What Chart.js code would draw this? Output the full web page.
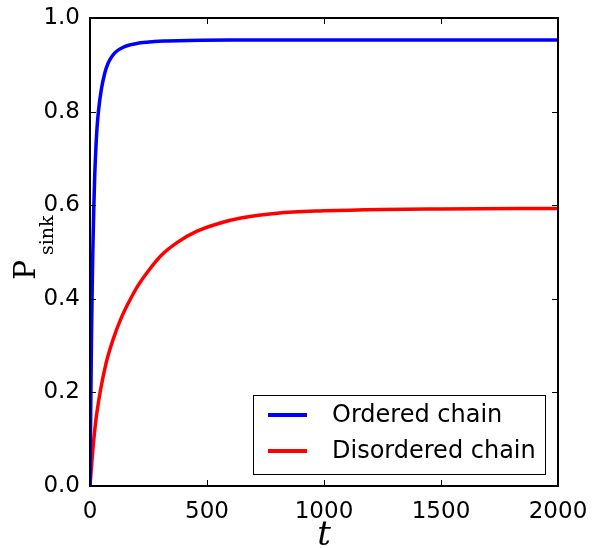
<!DOCTYPE html>
<html>
<head>
<meta charset="utf-8">
<script src="https://cdn.jsdelivr.net/npm/chart.js@4"></script>
<style>
  html, body { margin: 0; padding: 0; background: #fff; }
  #wrap { width: 600px; height: 548px; }
</style>
</head>
<body>
<div id="wrap"><canvas id="sinkChart" width="600" height="548"></canvas></div>
<script>
// values
const seriesNames = ['Ordered chain', 'Disordered chain'];
const seriesColors = ['#0000ff', '#ff0000'];

const tOrdered = [0, 3, 6, 9, 12, 16, 20, 25, 30, 36, 48, 63, 77, 90, 105, 125, 148, 175, 205, 240, 276, 333, 420, 600, 1000, 2000];
const pOrdered = [0, 0.16, 0.30, 0.41, 0.50, 0.59, 0.66, 0.72, 0.765, 0.80, 0.846, 0.882, 0.903, 0.915, 0.925, 0.933, 0.939, 0.943, 0.946, 0.948, 0.950, 0.951, 0.952, 0.953, 0.953, 0.953];

const tDisordered = [0, 10, 25, 45, 70, 100, 130, 165, 205, 250, 305, 375, 455, 550, 650, 800, 1000, 1250, 1500, 2000];
const pDisordered = [0, 0.065, 0.14, 0.205, 0.265, 0.315, 0.355, 0.392, 0.428, 0.46, 0.493, 0.521, 0.544, 0.561, 0.573, 0.583, 0.588, 0.591, 0.592, 0.593];

const xTicks = [0, 500, 1000, 1500, 2000];
const yTicks = [0.0, 0.2, 0.4, 0.6, 0.8, 1.0];

const toPoints = (xs, ys) => xs.map((x, i) => ({ x: x, y: ys[i] }));

// frame, inward ticks, axis labels and legend drawn on top
const framePlugin = {
    id: 'frame',
    afterDraw(chart) {
        const ctx = chart.ctx;
        const a = chart.chartArea;
        const xs = chart.scales.x, ys = chart.scales.y;
        ctx.save();
        ctx.strokeStyle = '#000';
        ctx.lineWidth = 1;
        ctx.beginPath();
        xTicks.forEach(v => {
            const px = Math.round(xs.getPixelForValue(v)) + 0.5;
            ctx.moveTo(px, a.bottom); ctx.lineTo(px, a.bottom - 6);
            ctx.moveTo(px, a.top); ctx.lineTo(px, a.top + 6);
        });
        yTicks.forEach(v => {
            const py = Math.round(ys.getPixelForValue(v)) + 0.5;
            ctx.moveTo(a.left, py); ctx.lineTo(a.left + 6, py);
            ctx.moveTo(a.right, py); ctx.lineTo(a.right - 6, py);
        });
        ctx.stroke();
        ctx.lineWidth = 2;
        ctx.strokeRect(a.left, a.top, a.right - a.left, a.bottom - a.top);

        // x title
        ctx.fillStyle = '#000';
        ctx.font = 'italic 34px "DejaVu Serif"';
        ctx.textAlign = 'center';
        ctx.textBaseline = 'alphabetic';
        ctx.fillText('t', (a.left + a.right) / 2, 545);

        // y title P_sink
        ctx.save();
        ctx.translate(35, 280);
        ctx.rotate(-Math.PI / 2);
        ctx.textAlign = 'left';
        ctx.font = '30px "DejaVu Serif"';
        ctx.fillText('P', 0, 0);
        ctx.font = '19px "DejaVu Serif"';
        ctx.fillText('sink', 25, 18);
        ctx.restore();

        // legend
        const bx = 253.5, by = 395.5, bw = 292, bh = 79;
        ctx.fillStyle = '#fff';
        ctx.fillRect(bx, by, bw, bh);
        ctx.lineWidth = 1;
        ctx.strokeStyle = '#000';
        ctx.strokeRect(bx, by, bw, bh);
        ctx.font = '24px "DejaVu Sans"';
        ctx.textAlign = 'left';
        ctx.textBaseline = 'middle';
        chart.data.datasets.forEach((ds, i) => {
            const ly = 415 + i * 36;
            ctx.strokeStyle = ds.borderColor;
            ctx.lineWidth = 4;
            ctx.beginPath();
            ctx.moveTo(268, ly); ctx.lineTo(307, ly);
            ctx.stroke();
            ctx.fillStyle = '#000';
            ctx.fillText(ds.label, 332, ly + 1);
        });
        ctx.restore();
    }
};

const ctx = document.getElementById('sinkChart').getContext('2d');
const sinkChart = new Chart(ctx, {
    type: 'scatter',
    data: {
        datasets: [
            { label: seriesNames[0], data: toPoints(tOrdered, pOrdered) },
            { label: seriesNames[1], data: toPoints(tDisordered, pDisordered) }
        ].map((ds, i) => Object.assign(ds, {
            showLine: true,
            borderColor: seriesColors[i],
            backgroundColor: seriesColors[i],
            borderWidth: 3.5,
            pointRadius: 0,
            cubicInterpolationMode: 'monotone'
        }))
    },
    options: {
        responsive: false,
        animation: false,
        layout: { padding: { top: 18, right: 42, left: 0, bottom: 0 } },
        plugins: { legend: { display: false }, tooltip: { enabled: false } },
        scales: {
            x: {
                type: 'linear', min: 0, max: 2000,
                afterFit: s => { s.height = 62; },
                afterBuildTicks: s => { s.ticks = xTicks.map(v => ({ value: v })); },
                grid: { display: false },
                border: { display: false },
                ticks: {
                    color: '#000', padding: 4, maxRotation: 0,
                    font: { family: 'DejaVu Sans', size: 23 },
                    callback: v => String(v)
                }
            },
            y: {
                min: 0, max: 1,
                afterFit: s => { s.width = 90; },
                afterBuildTicks: s => { s.ticks = yTicks.map(v => ({ value: v })); },
                grid: { display: false },
                border: { display: false },
                ticks: {
                    color: '#000', padding: 2,
                    font: { family: 'DejaVu Sans', size: 23 },
                    callback: v => Number(v).toFixed(1)
                }
            }
        }
    },
    plugins: [framePlugin]
});
</script>
</body>
</html>
